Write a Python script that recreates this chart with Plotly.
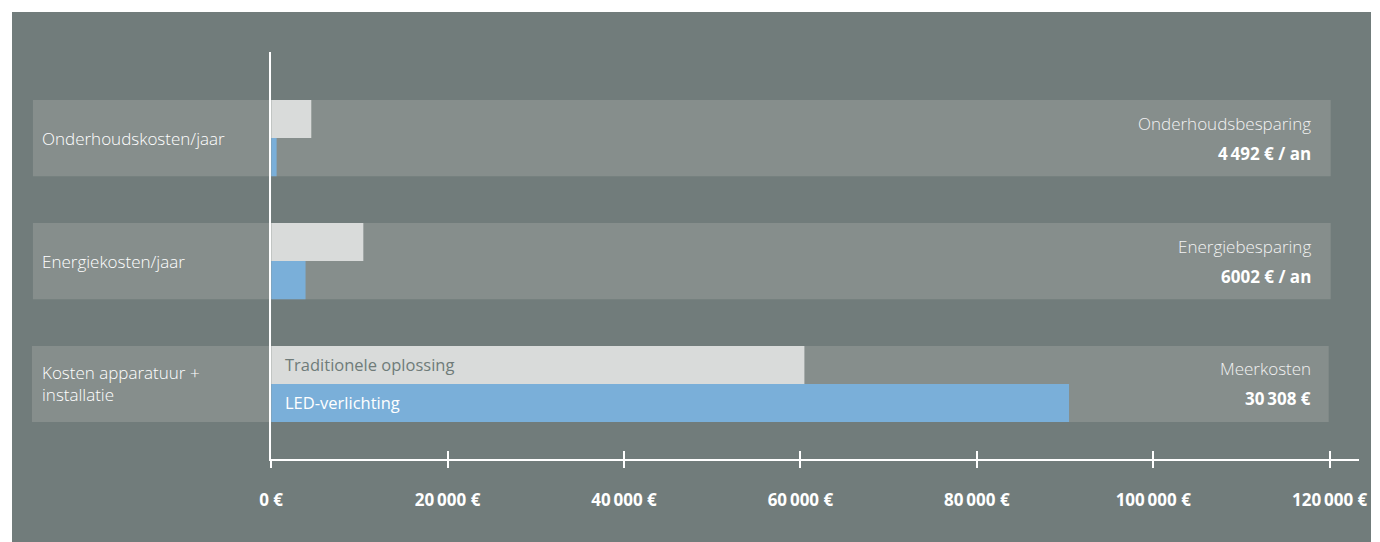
import plotly.graph_objects as go

categories = ["Onderhoudskosten/jaar", "Energiekosten/jaar", "Kosten apparatuur +<br>installatie"]
traditional = [4550, 10450, 60450]
led = [620, 3900, 90450]
series_names = ["Traditionele oplossing", "LED-verlichting"]
saving_titles = ["Onderhoudsbesparing", "Energiebesparing", "Meerkosten"]
saving_values = ["4\u2009492 € / an", "6002 € / an", "30\u2009308 €"]
tick_vals = [0, 20000, 40000, 60000, 80000, 100000, 120000]
tick_text = ["0 €", "20\u2009000 €", "40\u2009000 €", "60\u2009000 €", "80\u2009000 €", "100\u2009000 €", "120\u2009000 €"]

W, H = 1380, 542
BG = "#717c7b"
BAND = "#868e8c"
GREY = "#d9dbda"
BLUE = "#7aafd9"
FONT = "Open Sans, Noto Sans, Lato, sans-serif"

# horizontal calibration of the capture (observed = S * page + T)
S, T = 0.988, 11.0


def px(x_ref):
    return max(0.0, min(1.0, ((x_ref - T) / S) / W))


def py(y):
    return 1 - y / H


x0_ref, x_end_ref = 271, 1362
x_max = 120000 * (x_end_ref - x0_ref) / (1333 - x0_ref)
y_top_px, y_bot_px = 52, 459

fig = go.Figure()
fig.add_trace(go.Bar(y=categories, x=traditional, orientation="h", name=series_names[0],
                     marker=dict(color=GREY, line=dict(width=0)), hoverinfo="x"))
fig.add_trace(go.Bar(y=categories, x=led, orientation="h", name=series_names[1],
                     marker=dict(color=BLUE, line=dict(width=0)), hoverinfo="x"))

shapes = [dict(type="rect", xref="paper", yref="paper", x0=px(8), x1=1, y0=0, y1=py(12),
               fillcolor=BG, line=dict(width=0), layer="below")]
band_x = [(32, 1334), (32, 1334), (31, 1332)]
for i, c in enumerate(categories):
    shapes.append(dict(type="rect", xref="paper", yref="y", x0=px(band_x[i][0]), x1=px(band_x[i][1]),
                       y0=i - 0.31, y1=i + 0.31, fillcolor=BAND, line=dict(width=0), layer="below"))

annotations = []
for i, c in enumerate(categories):
    annotations.append(dict(xref="paper", yref="y", x=px(41), y=i, text=c, showarrow=False,
                            xanchor="left", yanchor="middle", align="left", borderpad=0, borderwidth=0,
                            font=dict(family=FONT, size=17, color="white", weight=300)))
    annotations.append(dict(xref="paper", yref="y", x=px(1314), y=i, yshift=15, text=saving_titles[i],
                            showarrow=False, xanchor="right", yanchor="middle", borderpad=0, borderwidth=0,
                            font=dict(family=FONT, size=17, color="#f2f2f2", weight=300)))
    annotations.append(dict(xref="paper", yref="y", x=px(1314), y=i, yshift=-15, text="<b>" + saving_values[i] + "</b>",
                            showarrow=False, xanchor="right", yanchor="middle", borderpad=0, borderwidth=0,
                            font=dict(family=FONT, size=17, color="white")))

annotations.append(dict(xref="x", yref="y", x=0, y=2, xshift=14, yshift=19, text=series_names[0],
                        showarrow=False, xanchor="left", yanchor="middle", borderpad=0, borderwidth=0,
                        font=dict(family=FONT, size=16.5, color="#6f7b79")))
annotations.append(dict(xref="x", yref="y", x=0, y=2, xshift=14, yshift=-19, text=series_names[1],
                        showarrow=False, xanchor="left", yanchor="middle", borderpad=0, borderwidth=0,
                        font=dict(family=FONT, size=16.5, color="white")))

dom_x = [px(x0_ref), px(x_end_ref)]
fig.update_layout(
    width=W, height=H, autosize=False, margin=dict(l=0, r=0, t=0, b=0, pad=0),
    paper_bgcolor="white", plot_bgcolor="rgba(0,0,0,0)",
    barmode="group", bargap=0.38, bargroupgap=0, showlegend=False,
    shapes=shapes, annotations=annotations,
    xaxis=dict(domain=dom_x, range=[0, x_max], showgrid=False, zeroline=False,
               showline=True, linecolor="white", linewidth=2,
               tickmode="array", tickvals=tick_vals, ticktext=tick_text,
               ticks="outside", ticklen=7, tickwidth=2, tickcolor="white",
               ticklabelstandoff=18, ticklabeloverflow="allow",
               tickfont=dict(family=FONT, size=17, color="white", weight="bold"),
               anchor="y"),
    xaxis2=dict(domain=dom_x, range=[0, x_max], overlaying="x", anchor="y", side="bottom",
                showgrid=False, zeroline=False, showline=False,
                tickmode="array", tickvals=tick_vals, ticktext=["" for _ in tick_vals],
                ticks="inside", ticklen=8, tickwidth=2, tickcolor="white"),
    yaxis=dict(domain=[py(y_bot_px), py(y_top_px)], range=[2.61, -0.70],
               type="category", categoryorder="array", categoryarray=categories,
               showgrid=False, zeroline=False, showline=True, linecolor="white", linewidth=2,
               showticklabels=False, ticks=""),
)
# invisible trace to activate xaxis2 (inside tick marks)
fig.add_trace(go.Scatter(x=[0], y=[categories[0]], xaxis="x2", mode="markers",
                         marker=dict(opacity=0), hoverinfo="skip", showlegend=False))

post = "document.body.style.margin='0';document.body.style.padding='0';document.body.style.overflow='hidden';"
fig.write_html("out.html", config={"responsive": False, "displayModeBar": False}, post_script=post)
